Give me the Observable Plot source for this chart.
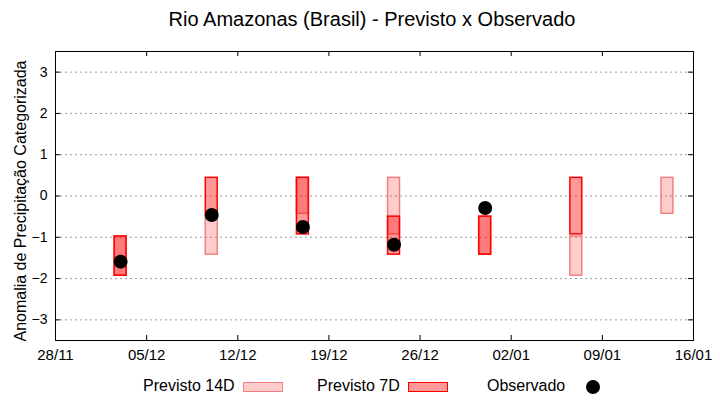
<!DOCTYPE html>
<html>
<head>
<meta charset="utf-8">
<script src="https://cdn.jsdelivr.net/npm/d3@7"></script>
<script src="https://cdn.jsdelivr.net/npm/@observablehq/plot@0.6"></script>
<style>
  body { margin:0; background:white; font-family:"Liberation Sans", Arial, sans-serif; }
  #wrap { position:relative; width:720px; height:400px; background:white; overflow:hidden; }
  #title { position:absolute; left:0; top:6px; width:744px; text-align:center; font-size:20px; line-height:26px; color:#000; }
  #chart { position:absolute; left:0; top:30px; }
  .lg { position:absolute; font-size:16px; line-height:20px; top:376px; color:#000; white-space:nowrap; }
  .box { position:absolute; top:382px; width:38px; height:8px; }
  .dot { position:absolute; width:14px; height:14px; border-radius:50%; background:#000; top:380px; left:586px; }
</style>
</head>
<body>
<div id="wrap">
  <div id="title">Rio Amazonas (Brasil) - Previsto x Observado</div>
  <div id="chart"></div>
  <span class="lg" style="left:143px">Previsto 14D</span>
  <div class="box" style="left:243px; background:rgba(255,0,0,0.2); border:1px solid #f08080;"></div>
  <span class="lg" style="left:317px">Previsto 7D</span>
  <div class="box" style="left:408px; background:rgba(255,0,0,0.4); border:1px solid #ff0000;"></div>
  <span class="lg" style="left:487px">Observado</span>
  <div class="dot"></div>
</div>
<script>
// Forecast/observation dates (weekly)
const dates = ["2023-12-03","2023-12-10","2023-12-17","2023-12-24","2023-12-31","2024-01-07","2024-01-14"];
// 14-day forecast category ranges (upper / lower)
const prev14Hi = [-0.98, -0.47, 0.44, 0.44, -0.50, -0.98, 0.44];
const prev14Lo = [-1.93, -1.42, -0.43, -0.93, -1.42, -1.93, -0.43];
// 7-day forecast category ranges (upper / lower)
const prev7Hi = [-0.98, 0.44, 0.44, -0.50, -0.50, 0.44, null];
const prev7Lo = [-1.93, -0.47, -0.93, -1.42, -1.42, -0.93, null];
// Observed categorized anomaly
const observed = [-1.59, -0.46, -0.75, -1.18, -0.29, null, null];
// Axis ticks
const yTicks = [-3, -2, -1, 0, 1, 2, 3];
const xTickLabels = ["2023-11-28","2023-12-05","2023-12-12","2023-12-19","2023-12-26","2024-01-02","2024-01-09","2024-01-16"];
const yLabel = "Anomalia de Precipitação Categorizada";

const parse = d3.utcParse("%Y-%m-%d");
const rows14 = dates.map((d, i) => ({date: parse(d), hi: prev14Hi[i], lo: prev14Lo[i]})).filter(d => d.hi != null);
const rows7 = dates.map((d, i) => ({date: parse(d), hi: prev7Hi[i], lo: prev7Lo[i]})).filter(d => d.hi != null);
const rowsObs = dates.map((d, i) => ({date: parse(d), value: observed[i]})).filter(d => d.value != null);
const xTicks = xTickLabels.map(parse);

const W = 720, H = 340, mL = 55, mR = 27, mT = 21, mB = 30;
const pw = W - mL - mR, ph = H - mT - mB;
const half = d => d3.utcHour.offset(d, -11);
const halfR = d => d3.utcHour.offset(d, 11);

const chart = Plot.plot({
  width: W, height: H,
  marginLeft: mL, marginRight: mR, marginTop: mT, marginBottom: mB,
  x: {type: "utc", domain: [xTicks[0], xTicks[xTicks.length - 1]]},
  y: {domain: [-3.5, 3.5]},
  style: {fontFamily: "'Liberation Sans', Arial, sans-serif", fontSize: "14px", color: "black", background: "white", overflow: "visible"},
  marks: [
    Plot.ruleY(yTicks, {stroke: "#9a9a9a", strokeDasharray: "2,3", strokeWidth: 1}),
    Plot.rect(rows14, {x1: d => half(d.date), x2: d => halfR(d.date), y1: "lo", y2: "hi", fill: "red", fillOpacity: 0.2, stroke: "#f08080", strokeWidth: 1.5}),
    Plot.rect(rows7, {x1: d => half(d.date), x2: d => halfR(d.date), y1: "lo", y2: "hi", fill: "red", fillOpacity: 0.4, stroke: "red", strokeWidth: 1.5}),
    Plot.dot(rowsObs, {x: "date", y: "value", r: 7, fill: "black", stroke: null}),
    Plot.frame({stroke: "black", strokeWidth: 1}),
    Plot.tickY(yTicks, {y: d => d, insetRight: pw - 5, stroke: "black"}),
    Plot.tickY(yTicks, {y: d => d, insetLeft: pw - 5, stroke: "black"}),
    Plot.tickX(xTicks, {x: d => d, insetTop: ph - 5, stroke: "black"}),
    Plot.tickX(xTicks, {x: d => d, insetBottom: ph - 5, stroke: "black"}),
    Plot.axisY(yTicks, {tickSize: 0, tickPadding: 8, fontSize: 14, label: null}),
    Plot.axisX(xTicks, {tickSize: 0, tickPadding: 9, fontSize: 15, label: null, tickFormat: d3.utcFormat("%d/%m")}),
    Plot.text([yLabel], {frameAnchor: "left", textAnchor: "middle", lineAnchor: "middle", rotate: -90, dx: -35, dy: 5, fontSize: 16, fill: "black"})
  ]
});
document.getElementById("chart").appendChild(chart);
</script>
</body>
</html>
